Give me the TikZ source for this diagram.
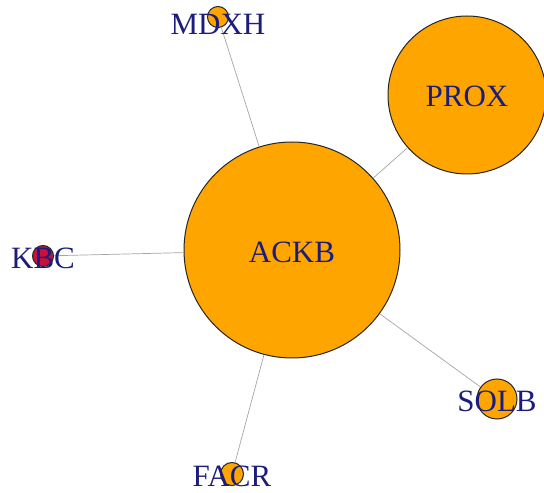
\documentclass[tikz,border=0pt]{standalone}
\usepackage{fontspec}
\setmainfont{Liberation Serif}
\definecolor{vfill}{RGB}{255,165,0}
\definecolor{vred}{RGB}{200,16,60}
\definecolor{vlabel}{RGB}{28,28,124}
\definecolor{elink}{RGB}{165,165,165}
\tikzset{
  vertex/.style={circle, draw=black!85, line width=1pt, fill=vfill, inner sep=0pt, minimum size=#1},
  vlab/.style={text=vlabel, inner sep=0pt, text height=20pt, text depth=0pt,
               font=\fontsize{31}{34}\selectfont},
  link/.style={draw=elink, line width=0.7pt}
}
\begin{document}
\begin{tikzpicture}[x=1pt,y=1pt]
  \useasboundingbox (0,0) rectangle (544,493);
  % vertices (y measured upward from the bottom edge)
  \node[vertex=216pt] (ackb) at (292,243) {};
  \node[vertex=158pt] (prox) at (467,398) {};
  \node[vertex=21pt]  (mdxh) at (218,476) {};
  \node[vertex=21pt, fill=vred] (kbc) at (43,237) {};
  \node[vertex=40pt]  (solb) at (497,94) {};
  \node[vertex=23pt]  (facr) at (232,19) {};
  % edges
  \draw[link] (ackb) -- (prox);
  \draw[link] (ackb) -- (mdxh);
  \draw[link] (ackb) -- (kbc);
  \draw[link] (ackb) -- (solb);
  \draw[link] (ackb) -- (facr);
  % labels
  \node[vlab] (ackb-l) at ([yshift=-3pt]ackb) {ACKB};
  \node[vlab] (prox-l) at ([yshift=-2pt]prox) {PROX};
  \node[vlab] (mdxh-l) at ([yshift=-8pt]mdxh) {MDXH};
  \node[vlab] (kbc-l)  at ([yshift=-3pt]kbc) {KBC};
  \node[vlab] (solb-l) at ([yshift=-3pt]solb) {SOLB};
  \node[vlab] (facr-l) at ([yshift=-3pt]facr) {FACR};
\end{tikzpicture}
\end{document}
